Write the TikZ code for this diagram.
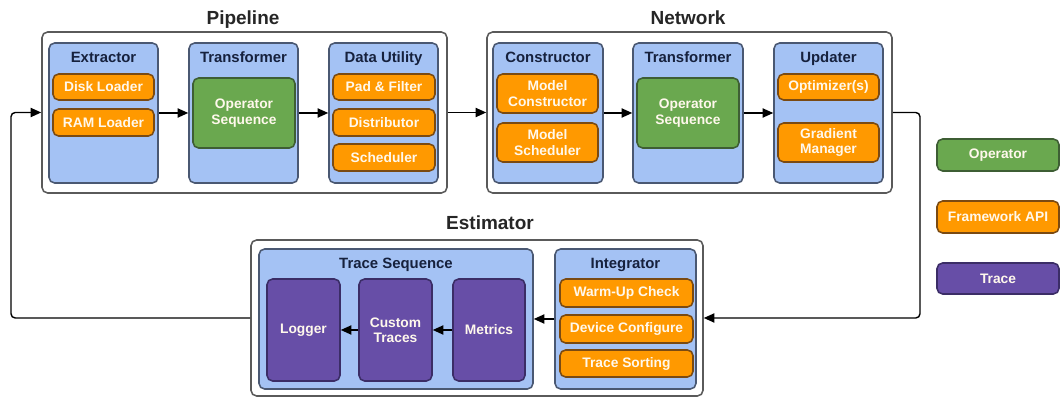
\documentclass[tikz,border=0pt]{standalone}
\usepackage{fontspec}
\setmainfont{Liberation Sans}
\usetikzlibrary{fit,arrows.meta}
\definecolor{outline}{HTML}{5A5A5A}
\definecolor{panelblue}{HTML}{A4C2F4}
\definecolor{panelline}{HTML}{4A5872}
\definecolor{apiorange}{HTML}{FF9900}
\definecolor{apiline}{HTML}{7A4A12}
\definecolor{opgreen}{HTML}{6AA84F}
\definecolor{opline}{HTML}{3E5E34}
\definecolor{trpurple}{HTML}{674EA7}
\definecolor{trline}{HTML}{3B2D66}
\definecolor{navy}{HTML}{16213D}
\definecolor{boxtext}{HTML}{FFF8EC}

\begin{document}
\begin{tikzpicture}[x=0.025cm, y=-0.025cm, line width=1.1pt,
  outer/.style={inner sep=0pt, draw=outline, fill=white, rounded corners=4pt},
  panel/.style={inner sep=0pt, draw=panelline, fill=panelblue, rounded corners=4pt},
  lbl/.style={text=boxtext, align=center, inner sep=0pt, font=\bfseries\fontsize{9.8}{11}\selectfont},
  inlabel/.style={label={[lbl]center:#1}},
  api/.style={inner sep=0pt, draw=apiline, fill=apiorange, rounded corners=4pt},
  op/.style={api, draw=opline, fill=opgreen},
  trc/.style={api, draw=trline, fill=trpurple},
  ttl/.style={anchor=base, inner sep=0pt, font=\bfseries\fontsize{13.5}{16}\selectfont, text=black!85},
  sub/.style={anchor=base, inner sep=0pt, font=\bfseries\fontsize{10.6}{12}\selectfont, text=navy},
  arr/.style={-{Triangle[length=7.5pt,width=6.5pt]}, line width=1pt, rounded corners=3pt}]
  \useasboundingbox (0,0) rectangle (1061,398);

  % pipeline
  \path node (pipe)  [outer, fit={(42,32) (447,193)}] {}
        node (extr)  [panel, fit={(49,43) (158,183)}] {}
        node (ptrans)[panel, fit={(189,43) (298,183)}] {}
        node (util)  [panel, fit={(329,43) (438,183)}] {}
        node at (243,24.5)  [ttl] {Pipeline}
        node at (103.5,63)  [sub] {Extractor}
        node at (243.5,63)  [sub] {Transformer}
        node at (383.5,63)  [sub] {Data Utility}
        node (disk)  [api, fit={(53,74) (154,100)},  inlabel=Disk Loader] {}
        node (ram)   [api, fit={(53,109) (154,136)}, inlabel=RAM Loader] {}
        node (pops)  [op,  fit={(193,78) (295,148)}, inlabel={Operator\\Sequence}] {}
        node (pad)   [api, fit={(333,74) (435,100)},  inlabel=Pad \& Filter] {}
        node (distr) [api, fit={(333,109) (435,136)}, inlabel=Distributor] {}
        node (sched) [api, fit={(333,144) (435,171)}, inlabel=Scheduler] {};

  % network
  \path node (net)   [outer, fit={(487,32) (892,193)}] {}
        node (cons)  [panel, fit={(493,43) (603,183)}] {}
        node (ntrans)[panel, fit={(633,43) (743,183)}] {}
        node (upd)   [panel, fit={(774,43) (883,183)}] {}
        node at (688,24.5)  [ttl] {Network}
        node at (548,63)    [sub] {Constructor}
        node at (688,63)    [sub] {Transformer}
        node at (828.5,63)  [sub] {Updater}
        node (mcons) [api, fit={(497,74) (598,113)},  inlabel={Model\\Constructor}] {}
        node (msched)[api, fit={(497,123) (598,162)}, inlabel={Model\\Scheduler}] {}
        node (nops)  [op,  fit={(637,78) (739,148)},  inlabel={Operator\\Sequence}] {}
        node (optim) [api, fit={(778,74) (879,100)},  inlabel=Optimizer(s)] {}
        node (grad)  [api, fit={(778,123) (879,162)}, inlabel={Gradient\\Manager}] {};

  % estimator
  \path node (est)   [outer, fit={(251,240) (703,396)}] {}
        node (tseq)  [panel, fit={(259,249) (533,389)}] {}
        node (integ) [panel, fit={(555,249) (696,389)}] {}
        node at (490,230)   [ttl] {Estimator}
        node at (396,269)   [sub] {Trace Sequence}
        node at (625.5,269) [sub] {Integrator}
        node (logger)[trc, fit={(267,279) (340,381)}, inlabel=Logger] {}
        node (custom)[trc, fit={(359,279) (432,381)}, inlabel={Custom\\Traces}] {}
        node (metric)[trc, fit={(453,279) (525,381)}, inlabel=Metrics] {}
        node (warm)  [api, fit={(560,279) (693,307)}, inlabel=Warm-Up Check] {}
        node (dev)   [api, fit={(560,315) (693,343)}, inlabel=Device Configure] {}
        node (sort)  [api, fit={(560,350) (693,377)}, inlabel=Trace Sorting] {};

  % legend
  \path node (lop)  [op,  fit={(937,139) (1059,171)}, inlabel=Operator] {}
        node (lapi) [api, fit={(937,201) (1059,233)}, inlabel=Framework API] {}
        node (ltrc) [trc, fit={(937,263) (1059,294)}, inlabel=Trace] {};

  \coordinate (loopL) at (11,0);
  \coordinate (loopR) at (920,0);
  \draw[arr] (extr) -- (ptrans);
  \draw[arr] (ptrans) -- (util);
  \draw[arr] (pipe) -- (net);
  \draw[arr] (cons) -- (ntrans);
  \draw[arr] (ntrans) -- (upd);
  \draw[arr] (net.east) -- (net.east -| loopR) |- (est.east);
  \draw[arr] (integ) -- (tseq);
  \draw[arr] (metric) -- (custom);
  \draw[arr] (custom) -- (logger);
  \draw[arr] (est.west) -- (est.west -| loopL) |- (pipe.west);
\end{tikzpicture}
\end{document}
